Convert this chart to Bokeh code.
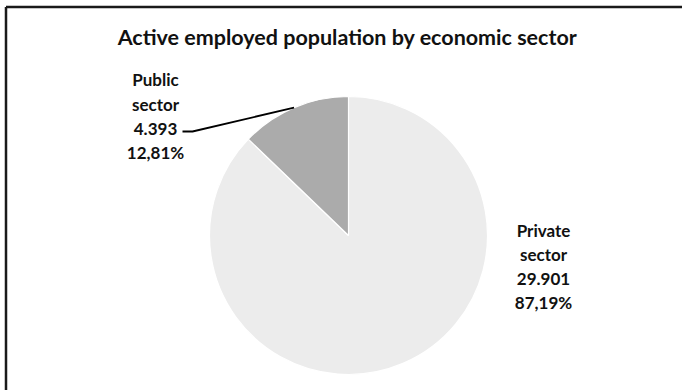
import math
from bokeh.plotting import figure
from bokeh.models import Range1d, ColumnDataSource
from bokeh.core.properties import value
from bokeh.embed import file_html
from bokeh.resources import INLINE

title = "Active employed population by economic sector"
categories = ["Private sector", "Public sector"]
values = [29901, 4393]
colors = ["#ECECEC", "#ABABAB"]

W, H = 682, 390
FONT = "Lato"

def py(y):
    return H - y

total = sum(values)
fracs = [v / total for v in values]
# Excel style: first slice starts at 12 o'clock going clockwise
starts, ends = [], []
cum = 0.0
for f in fracs:
    a0 = math.pi / 2 - 2 * math.pi * cum
    a1 = math.pi / 2 - 2 * math.pi * (cum + f)
    starts.append(a1)
    ends.append(a0)
    cum += f

cx, cy, r = 348, py(235), 139

p = figure(width=W, height=H, x_range=Range1d(0, W), y_range=Range1d(0, H),
           output_backend="svg", toolbar_location=None, min_border=0)
p.axis.visible = False
p.grid.visible = False
p.outline_line_color = None
p.background_fill_color = "white"
p.border_fill_color = "white"

# frame (only top and left visible in the crop)
p.line([5.5, W], [py(6.5), py(6.5)], line_color="#1a1a1a", line_width=2.5)
p.line([5.5, 5.5], [py(6.5), 0], line_color="#1a1a1a", line_width=2.5)

src = ColumnDataSource(dict(start=starts, end=ends, color=colors))
p.wedge(x=cx, y=cy, radius=r, start_angle="start", end_angle="end",
        fill_color="color", line_color="white", line_width=1.2, source=src)

p.text(x=[347], y=[py(36)], text=[title], text_font=value(FONT), text_font_style="bold",
       text_font_size="21.5px", text_align="center", text_baseline="middle", text_color="#111111")

def fmt_int(v):
    return f"{v:,}".replace(",", ".")

def fmt_pct(f):
    return f"{f*100:.2f}".replace(".", ",") + "%"

# Private label
priv = categories[0].split(" ")
lines_priv = [priv[0].capitalize(), priv[1], fmt_int(values[0]), fmt_pct(fracs[0])]
ys_priv = [230, 254, 278, 302]
p.text(x=[543] * 4, y=[py(v) for v in ys_priv], text=lines_priv, text_font=value(FONT),
       text_font_style="bold", text_font_size="17px", text_align="center",
       text_baseline="middle", text_color="#111111")

pub = categories[1].split(" ")
lines_pub = [pub[0], pub[1], fmt_int(values[1]), fmt_pct(fracs[1])]
ys_pub = [79, 104, 128, 152]
p.text(x=[155] * 4, y=[py(v) for v in ys_pub], text=lines_pub, text_font=value(FONT),
       text_font_style="bold", text_font_size="17px", text_align="center",
       text_baseline="middle", text_color="#111111")

# leader line from public slice mid-angle
mid = (starts[1] + ends[1]) / 2
sx, sy = cx + r * math.cos(mid), cy + r * math.sin(mid)
p.line([182, 192, sx], [py(131), py(131), sy], line_color="black", line_width=1.8)

open("out.html", "w").write(file_html(p, INLINE))
